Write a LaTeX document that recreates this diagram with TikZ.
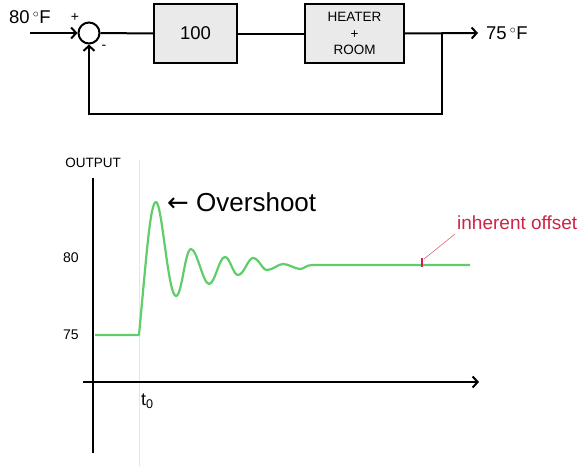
\documentclass[tikz,border=0pt]{standalone}
\usepackage{fontspec}
\setmainfont{Liberation Sans}
\newfontfamily\dejavu{DejaVu Sans}
\usetikzlibrary{arrows.meta}
\definecolor{curvegreen}{RGB}{95,205,105}
\definecolor{offred}{RGB}{205,35,70}
\definecolor{boxgray}{RGB}{234,234,234}
\begin{document}
\begin{tikzpicture}[x=1pt,y=-1pt,
  wire/.style={line width=2pt, draw=black},
  tip/.style={-{Straight Barb[length=5pt,width=11pt]}},
  blockbox/.style={draw, line width=2pt, fill=boxgray, inner sep=0},
  lbl/.style={inner sep=0}]
\useasboundingbox (0,0) rectangle (588,466);

% ---------- block diagram ----------
\node[circle, draw, line width=2pt, minimum size=21pt, inner sep=0] (sum) at (89,33) {};
\node[blockbox, minimum width=83pt, minimum height=59pt, font=\fontsize{18.5}{20}\selectfont] (k) at (195.5,33.5) {100};
\node[blockbox, minimum width=99pt, minimum height=59pt, align=center, font=\fontsize{13.5}{16.7}\selectfont] (plant) at (354.5,33.5) {HEATER\\+\\ROOM};

\coordinate (in) at (30,33);
\coordinate (out) at (478,33);
\coordinate (br) at (442,33);
\coordinate (fb1) at (442,114);
\coordinate (fb2) at (89,114);

\draw[wire,tip] (in) -- (sum.west);
\draw[wire] (sum.east) -- (k.west);
\draw[wire] (k.east) -- (plant.west);
\draw[wire,tip] (plant.east) -- (out);
\draw[wire,tip] (br) -- (fb1) -- (fb2) -- (sum.south);

\node[lbl, anchor=west, font=\fontsize{18.5}{20}\selectfont] (r) at (9,17) {80\,$^{\circ}$F};
\node[lbl, anchor=west, font=\fontsize{18.5}{20}\selectfont] (y) at (486,33) {75\,$^{\circ}$F};
\node[lbl, font=\fontsize{14}{15}\selectfont] (plus) at (75,17) {+};
\node[lbl, font=\fontsize{14}{15}\selectfont] (minus) at (104,47) {-};

% ---------- response graph ----------
\coordinate (t0top) at (139,160);
\coordinate (t0bot) at (139,466);
\draw[black!10, line width=0.6pt] (t0top) -- (t0bot);

\coordinate (yb) at (93,453);
\coordinate (yt) at (93,178);
\coordinate (xl) at (83,382);
\coordinate (xr) at (479,382);
\draw[wire] (yb) -- (yt);
\draw[wire,tip] (xl) -- (xr);

\draw[curvegreen, line width=2.2pt, line join=round]
  (95,335) -- (139,335)
  .. controls (146,262) and (150,202) .. (156,202)
  .. controls (162,202) and (168,296) .. (176,296)
  .. controls (182,296) and (185,249) .. (191,249)
  .. controls (197,249) and (203,284) .. (209,284)
  .. controls (215,284) and (219,257) .. (225,257)
  .. controls (230,257) and (233,275) .. (238,275)
  .. controls (244,275) and (248,258) .. (253,258)
  .. controls (259,258) and (262,270) .. (267,270)
  .. controls (273,270) and (278,264) .. (283,264)
  .. controls (289,264) and (295,269) .. (300,269)
  .. controls (304,269) and (306,265) .. (312,265)
  -- (470,265);

\node[lbl, font=\fontsize{13.5}{15}\selectfont] (outlbl) at (93,163) {OUTPUT};
\node[lbl, font=\fontsize{14}{15}\selectfont] (l80) at (71,258) {80};
\node[lbl, font=\fontsize{14}{15}\selectfont] (l75) at (71,335) {75};
\node[lbl, anchor=west, font=\fontsize{18}{19}\selectfont] (t0) at (141,401) {t\textsubscript{0}};

\node[lbl, anchor=west, font=\fontsize{26}{28}\selectfont] (os) at (167,202) {{\dejavu ←} Overshoot};

\coordinate (tkb) at (422,267);
\coordinate (tkt) at (422,258);
\coordinate (ld) at (455,234);
\draw[offred, line width=2pt] (tkb) -- (tkt);
\draw[offred!70, line width=0.6pt] (424,259) -- (ld);
\node[lbl, anchor=west, text=offred, font=\fontsize{19}{20}\selectfont] (off) at (457,223) {inherent offset};
\end{tikzpicture}
\end{document}
